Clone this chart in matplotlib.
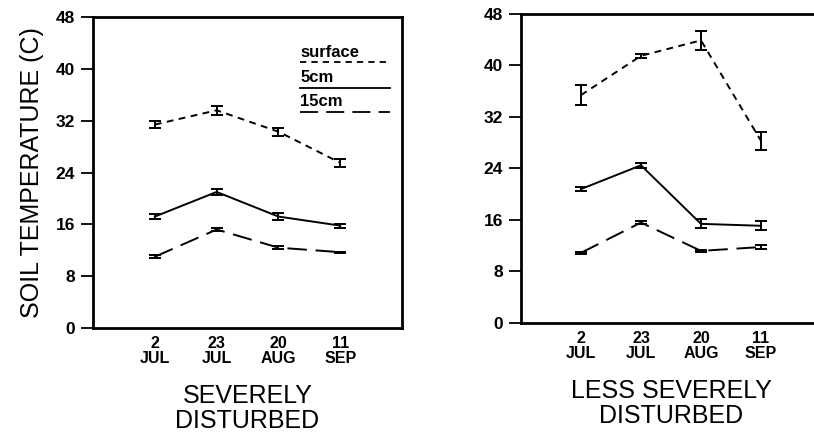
import numpy as np
import matplotlib
matplotlib.use('Agg')
import matplotlib.pyplot as plt

plt.rcParams['font.family'] = ['Liberation Sans', 'DejaVu Sans']

# fechas de muestreo
fechas = ['2\nJUL', '23\nJUL', '20\nAUG', '11\nSEP']

# severely disturbed
sev_surface = [31.4, 33.6, 30.3, 25.5]
sev_surface_err = [0.6, 0.7, 0.6, 0.6]
sev_5cm = [17.2, 21.0, 17.2, 15.8]
sev_5cm_err = [0.4, 0.5, 0.5, 0.3]
sev_15cm = [11.0, 15.2, 12.4, 11.7]
sev_15cm_err = [0.2, 0.2, 0.2, 0.1]

# less severely disturbed
less_surface = [35.4, 41.5, 43.9, 28.3]
less_surface_err = [1.5, 0.3, 1.5, 1.4]
less_5cm = [20.8, 24.5, 15.4, 15.1]
less_5cm_err = [0.3, 0.4, 0.7, 0.7]
less_15cm = [10.9, 15.6, 11.2, 11.8]
less_15cm_err = [0.2, 0.2, 0.2, 0.3]

y_ticks = [0, 8, 16, 24, 32, 40, 48]

estilos = {
    'surface': (0, (3.5, 2.8)),
    '5cm': '-',
    '15cm': (0, (10, 4.5)),
}

fig = plt.figure(figsize=(8.14, 4.36), dpi=100)
ax1 = fig.add_axes([0.1143, 0.2477, 0.3796, 0.7133])
ax2 = fig.add_axes([0.640, 0.2592, 0.3686, 0.7087])


def dibujar_panel(ax, series, titulo):
    x = np.arange(len(fechas))
    for nombre, vals, errs in series:
        ax.errorbar(x, vals, yerr=errs, color='black', lw=1.4,
                    linestyle=estilos[nombre], capsize=4, capthick=1.4,
                    elinewidth=1.4)
    ax.set_xlim(-1, 4)
    ax.set_ylim(0, 48)
    ax.set_yticks(y_ticks)
    ax.set_yticklabels([str(t) for t in y_ticks], fontsize=12.5, fontweight='bold')
    ax.set_xticks(x)
    ax.set_xticklabels(fechas, fontsize=11.5, fontweight='bold', linespacing=0.95)
    ax.tick_params(axis='x', length=0, pad=6)
    ax.tick_params(axis='y', length=9, width=1.3, pad=4)
    for s in ax.spines.values():
        s.set_linewidth(2)
    ax.set_xlabel(titulo, fontsize=18, labelpad=13, linespacing=1.05)


dibujar_panel(ax1, [('surface', sev_surface, sev_surface_err),
                    ('5cm', sev_5cm, sev_5cm_err),
                    ('15cm', sev_15cm, sev_15cm_err)],
              'SEVERELY\nDISTURBED')
dibujar_panel(ax2, [('surface', less_surface, less_surface_err),
                    ('5cm', less_5cm, less_5cm_err),
                    ('15cm', less_15cm, less_15cm_err)],
              'LESS SEVERELY\nDISTURBED')

ax1.set_ylabel('SOIL TEMPERATURE (C)', fontsize=18, labelpad=8)

# leyenda manual: texto encima de la linea
for nombre, ty, ly in [('surface', 0.862, 0.855),
                       ('5cm', 0.782, 0.772),
                       ('15cm', 0.704, 0.695)]:
    ax1.text(0.67, ty, nombre, transform=ax1.transAxes, fontsize=12,
             fontweight='bold', va='bottom', ha='left')
    ax1.plot([0.67, 0.96], [ly, ly], transform=ax1.transAxes, color='black',
             lw=1.3, linestyle=estilos[nombre])

fig.savefig('out.png', dpi=100)
